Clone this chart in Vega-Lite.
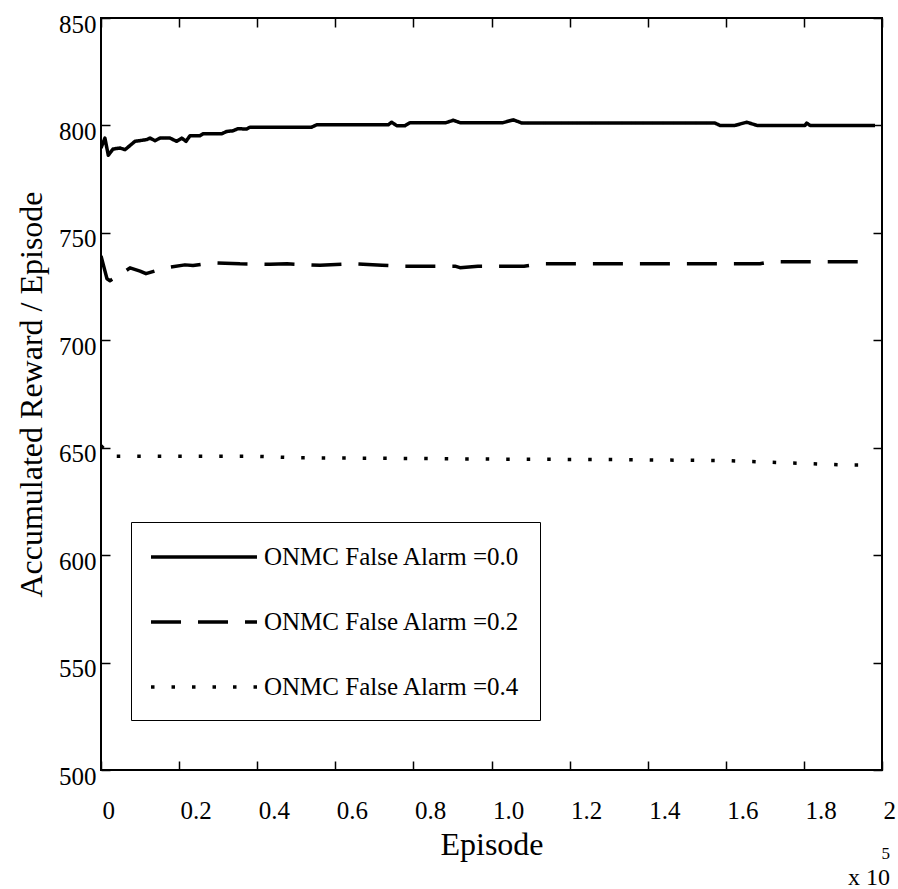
{
  "$schema": "https://vega.github.io/schema/vega-lite/v6.json",
  "width": 781,
  "height": 752,
  "autosize": {"type": "none"},
  "padding": {"left": 101, "top": 18, "right": 16, "bottom": 119},
  "background": "white",
  "config": {
    "view": {"stroke": "black", "strokeWidth": 2},
    "font": "Liberation Serif",
    "axis": {
      "grid": false,
      "domain": false,
      "tickColor": "black",
      "tickWidth": 1.5,
      "tickSize": -9,
      "labelFont": "Liberation Serif",
      "labelFontSize": 25,
      "labelColor": "black",
      "titleFont": "Liberation Serif",
      "titleFontSize": 32,
      "titleFontWeight": "normal",
      "titleColor": "black"
    }
  },
  "title": {
    "text": "5",
    "subtitle": "x 10",
    "orient": "bottom",
    "anchor": "end",
    "frame": "group",
    "font": "Liberation Serif",
    "fontSize": 17,
    "fontWeight": "normal",
    "color": "black",
    "subtitleFont": "Liberation Serif",
    "subtitleFontSize": 24,
    "subtitleColor": "black",
    "subtitlePadding": 3,
    "dx": 8,
    "offset": -14
  },
  "data": {
    "values": [
      {"ep": 0, "r": 789.5, "s": "ONMC False Alarm =0.0"},
      {"ep": 1000, "r": 794.1, "s": "ONMC False Alarm =0.0"},
      {"ep": 1870, "r": 786.1, "s": "ONMC False Alarm =0.0"},
      {"ep": 3070, "r": 789.0, "s": "ONMC False Alarm =0.0"},
      {"ep": 4870, "r": 789.5, "s": "ONMC False Alarm =0.0"},
      {"ep": 6150, "r": 788.7, "s": "ONMC False Alarm =0.0"},
      {"ep": 8700, "r": 792.6, "s": "ONMC False Alarm =0.0"},
      {"ep": 11700, "r": 793.4, "s": "ONMC False Alarm =0.0"},
      {"ep": 12550, "r": 794.1, "s": "ONMC False Alarm =0.0"},
      {"ep": 13830, "r": 792.9, "s": "ONMC False Alarm =0.0"},
      {"ep": 15110, "r": 794.1, "s": "ONMC False Alarm =0.0"},
      {"ep": 17670, "r": 794.1, "s": "ONMC False Alarm =0.0"},
      {"ep": 19390, "r": 792.6, "s": "ONMC False Alarm =0.0"},
      {"ep": 20670, "r": 794.1, "s": "ONMC False Alarm =0.0"},
      {"ep": 21770, "r": 792.6, "s": "ONMC False Alarm =0.0"},
      {"ep": 22790, "r": 795.2, "s": "ONMC False Alarm =0.0"},
      {"ep": 25350, "r": 795.2, "s": "ONMC False Alarm =0.0"},
      {"ep": 26120, "r": 796.1, "s": "ONMC False Alarm =0.0"},
      {"ep": 30900, "r": 796.1, "s": "ONMC False Alarm =0.0"},
      {"ep": 32190, "r": 797.2, "s": "ONMC False Alarm =0.0"},
      {"ep": 33800, "r": 797.5, "s": "ONMC False Alarm =0.0"},
      {"ep": 35080, "r": 798.5, "s": "ONMC False Alarm =0.0"},
      {"ep": 37310, "r": 798.3, "s": "ONMC False Alarm =0.0"},
      {"ep": 38150, "r": 799.2, "s": "ONMC False Alarm =0.0"},
      {"ep": 53960, "r": 799.2, "s": "ONMC False Alarm =0.0"},
      {"ep": 55240, "r": 800.3, "s": "ONMC False Alarm =0.0"},
      {"ep": 73570, "r": 800.3, "s": "ONMC False Alarm =0.0"},
      {"ep": 74440, "r": 801.5, "s": "ONMC False Alarm =0.0"},
      {"ep": 75720, "r": 799.9, "s": "ONMC False Alarm =0.0"},
      {"ep": 77850, "r": 799.9, "s": "ONMC False Alarm =0.0"},
      {"ep": 79130, "r": 801.3, "s": "ONMC False Alarm =0.0"},
      {"ep": 88350, "r": 801.3, "s": "ONMC False Alarm =0.0"},
      {"ep": 90220, "r": 802.4, "s": "ONMC False Alarm =0.0"},
      {"ep": 91930, "r": 801.3, "s": "ONMC False Alarm =0.0"},
      {"ep": 102940, "r": 801.3, "s": "ONMC False Alarm =0.0"},
      {"ep": 105580, "r": 802.6, "s": "ONMC False Alarm =0.0"},
      {"ep": 107810, "r": 801.1, "s": "ONMC False Alarm =0.0"},
      {"ep": 157230, "r": 801.1, "s": "ONMC False Alarm =0.0"},
      {"ep": 158510, "r": 800.0, "s": "ONMC False Alarm =0.0"},
      {"ep": 162350, "r": 800.0, "s": "ONMC False Alarm =0.0"},
      {"ep": 165350, "r": 801.5, "s": "ONMC False Alarm =0.0"},
      {"ep": 167990, "r": 800.0, "s": "ONMC False Alarm =0.0"},
      {"ep": 180280, "r": 800.0, "s": "ONMC False Alarm =0.0"},
      {"ep": 180720, "r": 801.1, "s": "ONMC False Alarm =0.0"},
      {"ep": 181560, "r": 800.0, "s": "ONMC False Alarm =0.0"},
      {"ep": 198200, "r": 800.0, "s": "ONMC False Alarm =0.0"},

      {"ep": 0, "r": 739.3, "s": "ONMC False Alarm =0.2"},
      {"ep": 1540, "r": 728.6, "s": "ONMC False Alarm =0.2"},
      {"ep": 2300, "r": 727.7, "s": "ONMC False Alarm =0.2"},
      {"ep": 5630, "r": 731.4, "s": "ONMC False Alarm =0.2"},
      {"ep": 7430, "r": 733.7, "s": "ONMC False Alarm =0.2"},
      {"ep": 10000, "r": 732.2, "s": "ONMC False Alarm =0.2"},
      {"ep": 11520, "r": 731.0, "s": "ONMC False Alarm =0.2"},
      {"ep": 16390, "r": 733.7, "s": "ONMC False Alarm =0.2"},
      {"ep": 21510, "r": 735.1, "s": "ONMC False Alarm =0.2"},
      {"ep": 23560, "r": 734.8, "s": "ONMC False Alarm =0.2"},
      {"ep": 28430, "r": 736.1, "s": "ONMC False Alarm =0.2"},
      {"ep": 35600, "r": 735.6, "s": "ONMC False Alarm =0.2"},
      {"ep": 43280, "r": 735.4, "s": "ONMC False Alarm =0.2"},
      {"ep": 47630, "r": 735.6, "s": "ONMC False Alarm =0.2"},
      {"ep": 56080, "r": 734.9, "s": "ONMC False Alarm =0.2"},
      {"ep": 64530, "r": 735.6, "s": "ONMC False Alarm =0.2"},
      {"ep": 71960, "r": 734.9, "s": "ONMC False Alarm =0.2"},
      {"ep": 76570, "r": 734.5, "s": "ONMC False Alarm =0.2"},
      {"ep": 90650, "r": 734.5, "s": "ONMC False Alarm =0.2"},
      {"ep": 91930, "r": 733.8, "s": "ONMC False Alarm =0.2"},
      {"ep": 96540, "r": 734.5, "s": "ONMC False Alarm =0.2"},
      {"ep": 108320, "r": 734.5, "s": "ONMC False Alarm =0.2"},
      {"ep": 112420, "r": 735.6, "s": "ONMC False Alarm =0.2"},
      {"ep": 168750, "r": 735.6, "s": "ONMC False Alarm =0.2"},
      {"ep": 171310, "r": 736.5, "s": "ONMC False Alarm =0.2"},
      {"ep": 196150, "r": 736.5, "s": "ONMC False Alarm =0.2"},

      {"ep": 0, "r": 651.0, "s": "ONMC False Alarm =0.4"},
      {"ep": 2500, "r": 646.0, "s": "ONMC False Alarm =0.4"},
      {"ep": 40000, "r": 646.0, "s": "ONMC False Alarm =0.4"},
      {"ep": 50000, "r": 645.3, "s": "ONMC False Alarm =0.4"},
      {"ep": 80000, "r": 645.0, "s": "ONMC False Alarm =0.4"},
      {"ep": 100000, "r": 644.7, "s": "ONMC False Alarm =0.4"},
      {"ep": 130000, "r": 644.5, "s": "ONMC False Alarm =0.4"},
      {"ep": 160000, "r": 644.0, "s": "ONMC False Alarm =0.4"},
      {"ep": 175000, "r": 643.0, "s": "ONMC False Alarm =0.4"},
      {"ep": 190000, "r": 642.0, "s": "ONMC False Alarm =0.4"},
      {"ep": 194300, "r": 642.0, "s": "ONMC False Alarm =0.4"}
    ]
  },
  "layer": [
    {
      "mark": {"type": "line", "color": "black", "strokeWidth": 3.5, "strokeCap": "butt", "strokeJoin": "round", "clip": true},
      "encoding": {
        "x": {
          "field": "ep",
          "type": "quantitative",
          "scale": {"domain": [0, 200000], "nice": false, "zero": false},
          "axis": {
            "orient": "bottom",
            "title": "Episode",
            "values": [0, 20000, 40000, 60000, 80000, 100000, 120000, 140000, 160000, 180000, 200000],
            "labelExpr": "datum.value == 0 ? '0' : datum.value == 200000 ? '2' : format(datum.value / 100000, '.1f')",
            "labelAlign": "left",
            "labelOffset": 1,
            "labelPadding": 37,
            "titlePadding": 6
          }
        },
        "y": {
          "field": "r",
          "type": "quantitative",
          "scale": {"domain": [500, 850], "nice": false, "zero": false},
          "axis": {
            "orient": "left",
            "title": "Accumulated Reward / Episode",
            "values": [500, 550, 600, 650, 700, 750, 800, 850],
            "labelOffset": 6,
            "labelPadding": 14,
            "titlePadding": 10
          }
        },
        "strokeDash": {
          "field": "s",
          "type": "nominal",
          "scale": {
            "domain": ["ONMC False Alarm =0.0", "ONMC False Alarm =0.2", "ONMC False Alarm =0.4"],
            "range": [[1, 0], [30, 17], [3.5, 17]]
          },
          "legend": {
            "orient": "none",
            "legendX": 30,
            "legendY": 504,
            "title": null,
            "symbolType": "M-4,0H4",
            "symbolSize": 702,
            "symbolOffset": 38,
            "symbolStrokeWidth": 3.5,
            "symbolStrokeColor": "black",
            "labelFont": "Liberation Serif",
            "labelFontSize": 25,
            "labelColor": "black",
            "labelLimit": 0,
            "labelOffset": 45,
            "strokeColor": "black",
            "fillColor": "white",
            "padding": 20,
            "rowPadding": 37
          }
        }
      }
    },
    {
      "mark": {"type": "point", "opacity": 0},
      "encoding": {
        "x": {
          "field": "ep",
          "type": "quantitative",
          "axis": {"orient": "top", "title": null, "labels": false, "values": [0, 20000, 40000, 60000, 80000, 100000, 120000, 140000, 160000, 180000, 200000]}
        },
        "y": {
          "field": "r",
          "type": "quantitative",
          "axis": {"orient": "right", "title": null, "labels": false, "values": [500, 550, 600, 650, 700, 750, 800, 850]}
        }
      }
    }
  ],
  "resolve": {"axis": {"x": "independent", "y": "independent"}}
}
